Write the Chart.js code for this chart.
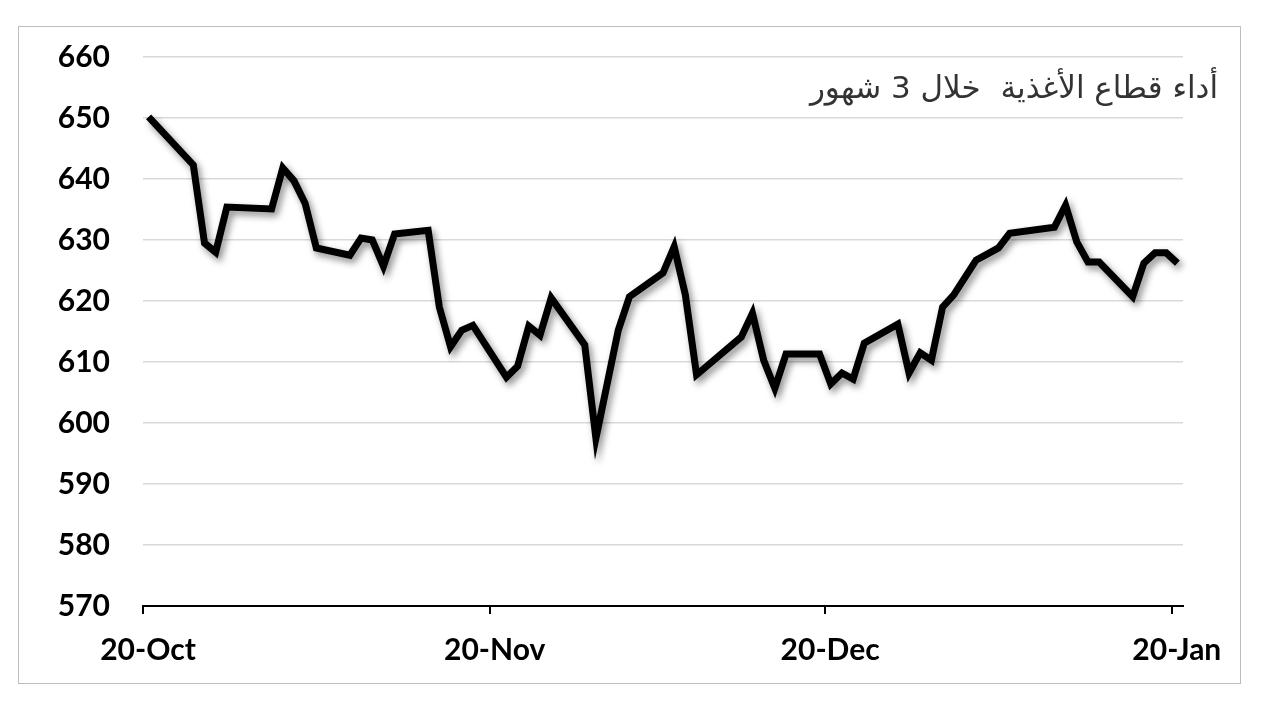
<!DOCTYPE html>
<html>
<head>
<meta charset="utf-8">
<script src="https://cdn.jsdelivr.net/npm/chart.js@4.4.0/dist/chart.umd.min.js"></script>
<style>
  html, body { margin: 0; padding: 0; background: #fff; }
  #wrap { position: relative; width: 1264px; height: 720px; }
  #frame { position: absolute; left: 18px; top: 26px; width: 1221px; height: 656px; border: 1.5px solid #bdbdbd; }
  canvas { position: absolute; left: 0; top: 0; }
</style>
</head>
<body>
<div id="wrap">
  <div id="frame"></div>
  <canvas id="kk" width="1264" height="720"></canvas>
</div>
<script>
// days counted from 20-Oct
const days = [0,4,5,6,7,11,12,13,14,15,18,19,20,21,22,25,26,27,28,29,32,33,34,35,36,39,40,42,43,46,47,48,49,53,54,55,56,57,60,61,62,63,64,67,68,69,70,71,72,74,76,77,81,82,83,84,85,88,89,90,91,92];
const values = [650.2,642.3,629.5,628,635.4,635.1,641.8,639.7,636,628.7,627.5,630.3,630,625.7,631,631.6,619,612.5,615.2,616,607.5,609.3,615.9,614.4,620.5,612.8,597.5,615.2,620.7,624.6,628.9,621,607.9,614.1,618,610.3,605.7,611.3,611.3,606.4,608.2,607.2,613.1,616.2,608.2,611.5,610.3,619,621,626.7,628.7,631.1,632.1,635.7,629.7,626.4,626.4,620.7,626.2,627.9,627.9,626.2];
const tickDays = [0, 31, 61, 92];
const tickLabels = ['20-Oct', '20-Nov', '20-Dec', '20-Jan'];
const title = 'أداء قطاع الأغذية  خلال 3 شهور';

document.addEventListener('DOMContentLoaded', () => {
    const ctx = document.getElementById('kk').getContext('2d');

    // each day is a slot, the point sits in the middle of it
    const points = days.map((d, i) => ({ x: d + 0.5, y: values[i] }));

    const shadow = {
        id: 'shadow',
        beforeDatasetDraw(chart) {
            const c = chart.ctx;
            c.save();
            c.shadowColor = 'rgba(0,0,0,0.45)';
            c.shadowBlur = 7;
            c.shadowOffsetX = 3;
            c.shadowOffsetY = 4;
        },
        afterDatasetDraw(chart) {
            chart.ctx.restore();
        }
    };

    const titleText = {
        id: 'titleText',
        afterDraw(chart) {
            const c = chart.ctx;
            c.save();
            c.direction = 'rtl';
            c.textAlign = 'right';
            c.textBaseline = 'alphabetic';
            c.fillStyle = '#333';
            c.font = '31px "DejaVu Sans"';
            c.fillText(title, 1218, 98);
            c.restore();
        }
    };

    new Chart(ctx, {
        type: 'line',
        data: {
            datasets: [{
                data: points,
                borderColor: '#000',
                borderWidth: 7,
                borderJoinStyle: 'miter',
                pointRadius: 0,
                tension: 0,
                clip: false
            }]
        },
        options: {
            responsive: false,
            animation: false,
            events: [],
            layout: { padding: { left: 0, right: 81, top: 57, bottom: 0 } },
            plugins: { legend: { display: false }, tooltip: { enabled: false } },
            scales: {
                x: {
                    type: 'linear',
                    min: 0,
                    max: 93,
                    afterBuildTicks: (scale) => { scale.ticks = tickDays.map(v => ({ value: v })); },
                    afterFit: (scale) => { scale.height = 114; },
                    grid: { display: true, drawOnChartArea: false, drawTicks: true, tickLength: 8, color: '#000', lineWidth: 2 },
                    border: { display: true, color: '#000', width: 2 },
                    ticks: {
                        autoSkip: false,
                        maxRotation: 0,
                        padding: 18,
                        labelOffset: 5,
                        color: '#000',
                        font: { family: 'Lato', weight: 'bold', size: 30 },
                        callback: (v) => tickLabels[tickDays.indexOf(v)]
                    }
                },
                y: {
                    min: 570,
                    max: 660,
                    afterFit: (scale) => { scale.width = 143; },
                    grid: { color: '#d9d9d9', lineWidth: 1.5, drawTicks: false },
                    border: { display: false },
                    ticks: {
                        stepSize: 10,
                        padding: 33,
                        color: '#000',
                        font: { family: 'Lato', weight: 'bold', size: 30 }
                    }
                }
            }
        },
        plugins: [shadow, titleText]
    });
});
</script>
</body>
</html>
